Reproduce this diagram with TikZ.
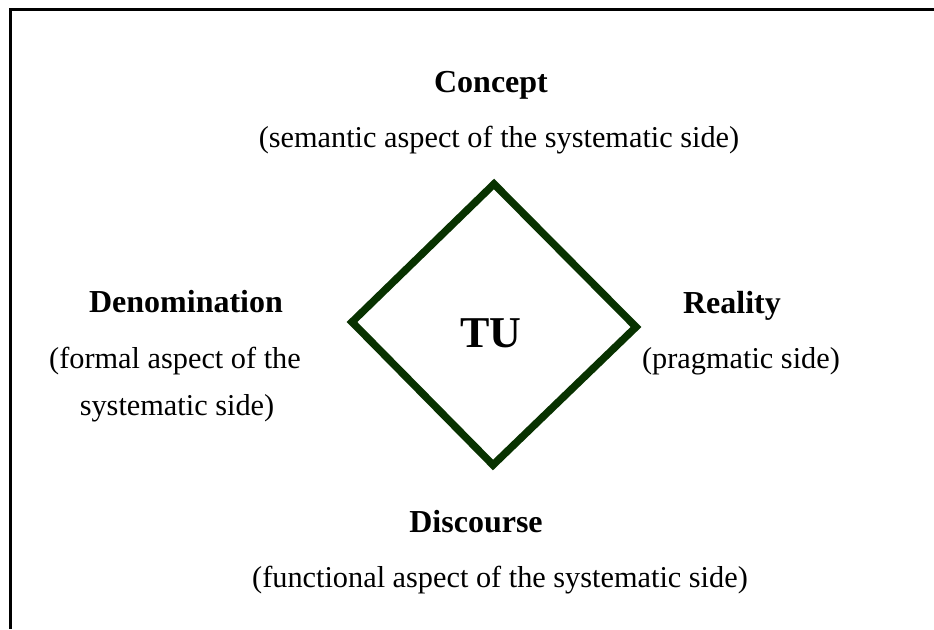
\documentclass[tikz,border=0pt]{standalone}
\usepackage{fontspec}
\setmainfont{Liberation Serif}
\definecolor{dgreen}{RGB}{8,50,0}
\begin{document}
\begin{tikzpicture}[x=1pt,y=-1pt,
  lbl/.style={inner sep=0pt,anchor=base,font=\fontsize{32}{38}\selectfont\bfseries},
  sub/.style={inner sep=0pt,anchor=base,font=\fontsize{30.3}{36}\selectfont},
  frame/.style={line width=3pt,black}]
\useasboundingbox (0,0) rectangle (934,629);
\draw[frame] (934,9) -- (10,9) -- (10,629);
\coordinate (dt) at (494,184);
\coordinate (dr) at (636,327);
\coordinate (db) at (493,465);
\coordinate (dl) at (352,322);
\draw[dgreen,line width=7.5pt,line join=miter] (dt) -- (dr) -- (db) -- (dl) -- cycle;
\node[inner sep=0pt,anchor=base,font=\fontsize{44}{50}\selectfont\bfseries] (tu) at (491,347) {TU};
\node[lbl] (concept) at (491,92) {Concept};
\node[sub] (conceptsub) at (499,147) {(semantic aspect of the systematic side)};
\node[lbl] (denom) at (186,312) {Denomination};
\node[sub] (denomsub1) at (175,368) {(formal aspect of the};
\node[sub] (denomsub2) at (177,415) {systematic side)};
\node[lbl] (reality) at (732,313) {Reality};
\node[sub] (realitysub) at (741,368) {(pragmatic side)};
\node[lbl] (disc) at (476,532) {Discourse};
\node[sub] (discsub) at (500,587) {(functional aspect of the systematic side)};
\end{tikzpicture}
\end{document}
